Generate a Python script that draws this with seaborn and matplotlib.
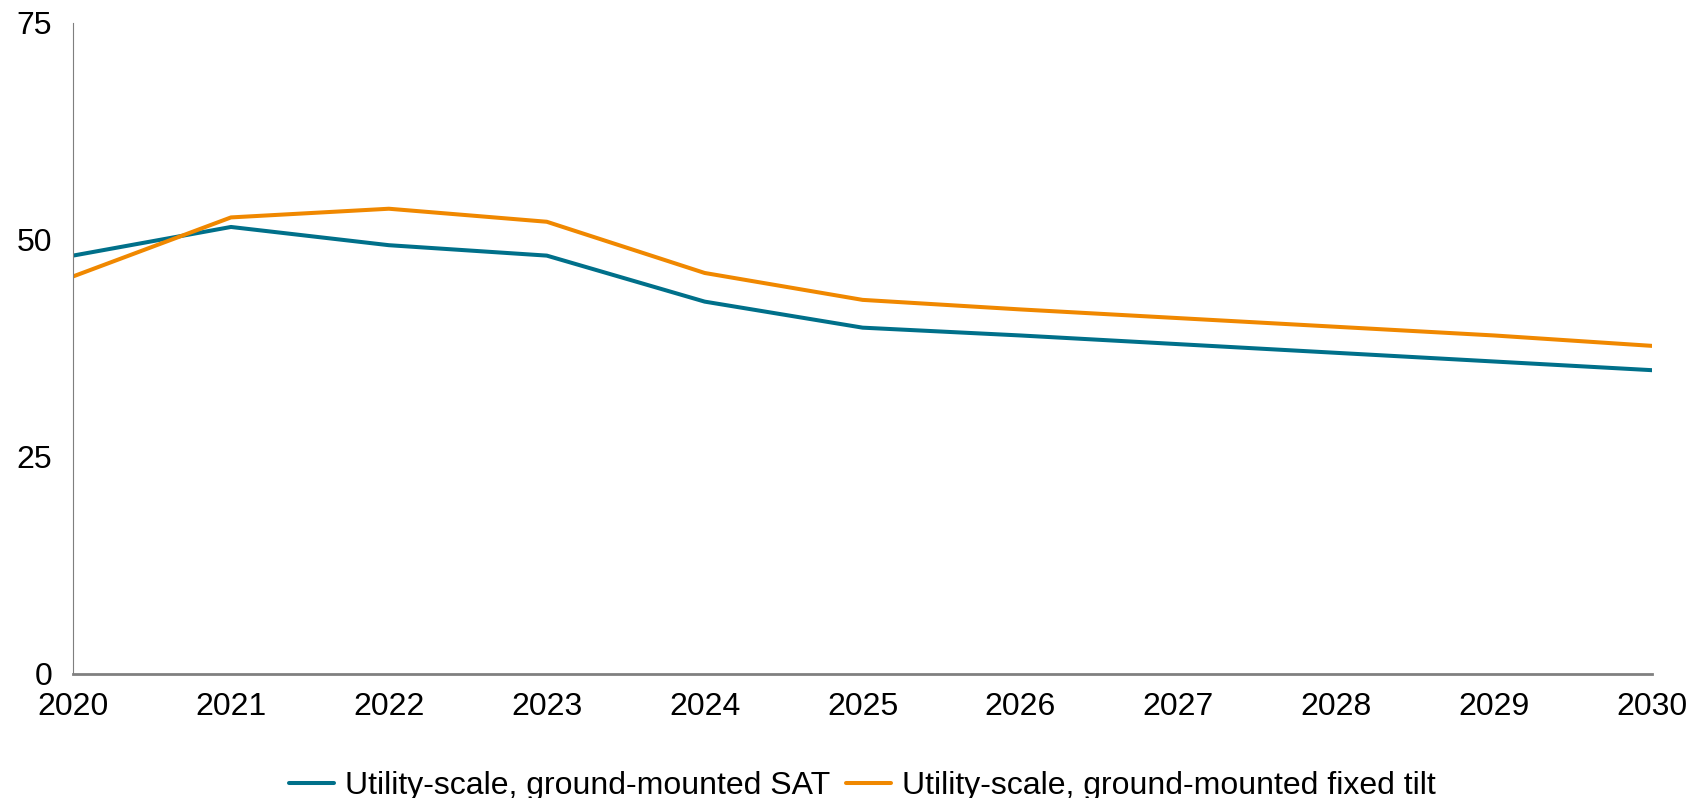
import matplotlib
matplotlib.use("Agg")
import numpy as np
import pandas as pd
import matplotlib.pyplot as plt
import seaborn as sns

# data
years = [2020, 2021, 2022, 2023, 2024, 2025, 2026, 2027, 2028, 2029, 2030]
sat_values = [48.2, 51.5, 49.4, 48.2, 42.9, 39.9, 39.0, 38.0, 37.0, 36.0, 35.0]
fixed_values = [45.8, 52.6, 53.6, 52.1, 46.2, 43.1, 42.0, 41.0, 40.0, 39.0, 37.8]
series_names = ["Utility-scale, ground-mounted SAT",
                "Utility-scale, ground-mounted fixed tilt"]
y_ticks = [0, 25, 50, 75]

df = pd.DataFrame({
    "year": years * 2,
    "value": sat_values + fixed_values,
    "series": [series_names[0]] * len(years) + [series_names[1]] * len(years),
})

sns.set_style("white")
plt.rcParams['font.family'] = ['Liberation Sans', 'DejaVu Sans']
plt.rcParams['text.color'] = 'black'
plt.rcParams['xtick.color'] = 'black'
plt.rcParams['ytick.color'] = 'black'

fig = plt.figure(figsize=(16.91, 7.98), dpi=100)
ax = fig.add_axes([0.0432, 0.1554, 0.9338, 0.8158])

palette = {series_names[0]: "#00708A", series_names[1]: "#F08800"}
sns.lineplot(data=df, x="year", y="value", hue="series", palette=palette,
             linewidth=2.9, ax=ax, legend=True)

ax.set_xlim(2020, 2030)
ax.set_ylim(0, 75)
ax.set_xticks(years)
ax.set_yticks(y_ticks)
ax.set_xlabel("")
ax.set_ylabel("")
ax.tick_params(axis="both", length=0, labelsize=23, labelcolor="black")
ax.tick_params(axis="x", pad=13)
ax.tick_params(axis="y", pad=15)

for side in ["top", "right"]:
    ax.spines[side].set_visible(False)
ax.spines["left"].set_color("#7f7f7f")
ax.spines["left"].set_linewidth(0.8)
ax.spines["bottom"].set_color("#808080")
ax.spines["bottom"].set_linewidth(2.0)

leg = ax.legend(loc="center", bbox_to_anchor=(0.5, -0.172), ncol=2, frameon=False,
                fontsize=23, handlelength=1.4, handletextpad=0.35, columnspacing=0.5)
for t in leg.get_texts():
    t.set_color("black")

fig.savefig("out.png", dpi=100)
